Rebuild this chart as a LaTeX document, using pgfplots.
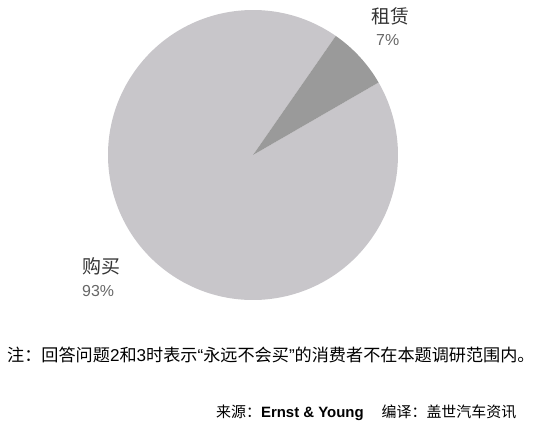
\documentclass[border=0pt]{standalone}
\usepackage{fontspec}
\setmainfont{Liberation Sans}
\newfontfamily\cjk{Noto Sans CJK SC}
\usepackage{pgfplots}
\usepackage{pgfplotstable}
\pgfplotsset{compat=1.18}

\definecolor{buy}{HTML}{C8C6CA}
\definecolor{lease}{HTML}{9A9A9A}
\definecolor{labtxt}{HTML}{333333}
\definecolor{pcttxt}{HTML}{666666}

% share (%) of each slice
\pgfplotstableread{
name  share
lease 7
buy   93
}\piedata

\begin{document}
\begin{tikzpicture}[x=1bp,y=1bp]
  \path[use as bounding box] (0,0) rectangle (550,427);
  \begin{axis}[
      at={(253bp,272bp)}, anchor=center,
      hide axis, scale only axis,
      width=290bp, height=290bp,
      xmin=-1, xmax=1, ymin=-1, ymax=1,
      clip=false
    ]
    \pgfplotstablegetelem{0}{share}\of\piedata
    \pgfmathsetmacro{\sl}{\pgfplotsretval}
    \pgfplotstablegetelem{1}{share}\of\piedata
    \pgfmathsetmacro{\sb}{\pgfplotsretval}
    \pgfmathsetmacro{\a}{30}
    \pgfmathsetmacro{\b}{\a+3.6*\sl}
    \pgfmathsetmacro{\c}{\b+3.6*\sb}
    \fill[buy] (axis cs:0,0) -- (axis cs:{cos(\b)},{sin(\b)})
      arc[start angle=\b, end angle=\c, radius=1] -- cycle;
    \fill[lease] (axis cs:0,0) -- (axis cs:{cos(\a)},{sin(\a)})
      arc[start angle=\a, end angle=\b, radius=1] -- cycle;
  \end{axis}
  \node[anchor=west, inner sep=0, text=labtxt, font=\cjk\fontsize{19}{19}\selectfont] at (371,411) {租赁};
  \node[anchor=west, inner sep=0, text=pcttxt, font=\fontsize{16}{16}\selectfont] at (376,387) {7\%};
  \node[anchor=west, inner sep=0, text=labtxt, font=\cjk\fontsize{19}{19}\selectfont] at (82,161) {购买};
  \node[anchor=west, inner sep=0, text=pcttxt, font=\fontsize{16}{16}\selectfont] at (82,136) {93\%};
  \node[anchor=west, inner sep=0, font=\fontsize{17.2}{17.2}\selectfont] at (7,72)
    {{\cjk 注：回答问题}2{\cjk 和}3{\cjk 时表示}“{\cjk 永远不会买}”{\cjk 的消费者不在本题调研范围内。}};
  \node[anchor=west, inner sep=0, font=\fontsize{15}{15}\selectfont] at (216,14)
    {{\cjk 来源：}\textbf{Ernst \& Young}\hspace{18bp}{\cjk 编译：盖世汽车资讯}};
\end{tikzpicture}
\end{document}
